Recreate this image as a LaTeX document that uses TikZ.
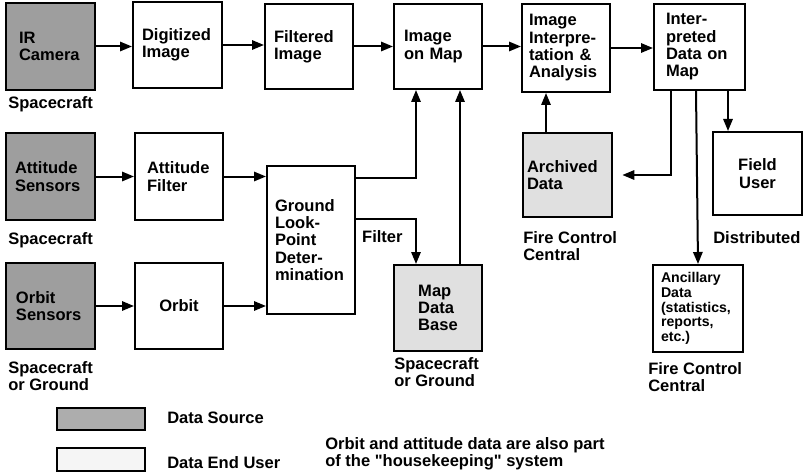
\documentclass[tikz,border=0pt]{standalone}
\usepackage{fontspec}
\setmainfont{Liberation Sans}
\usetikzlibrary{arrows.meta,calc}
\begin{document}
\begin{tikzpicture}[x=0.75pt,y=-0.75pt,
  every node/.style={font=\bfseries\fontsize{12.4}{13}\selectfont, inner sep=0pt},
  blk/.style n args={2}{draw, line width=1.5pt,
    minimum width=#1*0.75pt, minimum height=#2*0.75pt},
  lft/.style={text width=#1*0.75pt, align=left},
  src/.style={fill=black!38},
  arc/.style={fill=black!12},
  lbl/.style={anchor=north west, align=left},
  small/.style={font=\bfseries\fontsize{10.6}{11}\selectfont},
  arr/.style={line width=1.5pt, -{Triangle[length=9pt,width=7pt]}},
]
\useasboundingbox (0,0) rectangle (806,474);

% top row: image chain
\node[blk={89}{87}, src, lft=63] (ir)   at (50.5,46.5) {IR\\Camera};
\node[blk={89}{86}, lft=71]      (dig)  at (177.5,45)  {Digitized\\Image};
\node[blk={88}{85}, lft=70]      (filt) at (309,46.5)  {Filtered\\Image};
\node[blk={88}{85}, lft=68]      (iom)  at (438,46.5)  {Image\\on Map};
\node[blk={88}{88}, lft=74]      (interp) at (566,48)  {Image\\Interpre-\\tation \&\\Analysis};
\node[blk={91}{86}, lft=67]      (idata) at (699.5,47) {Inter-\\preted\\Data on\\Map};

% attitude and orbit chains
\node[blk={89}{87}, src, lft=71] (atts) at (50.5,176.5) {Attitude\\Sensors};
\node[blk={88}{87}, lft=64]      (attf) at (179,176.5)  {Attitude\\Filter};
\node[blk={89}{86}, src, lft=69] (orbs) at (50.5,306)   {Orbit\\Sensors};
\node[blk={88}{86}, align=center] (orb) at (179,306)    {Orbit};
\node[blk={88}{148}, lft=72]     (glp)  at (311,240)    {Ground\\Look-\\Point\\Deter-\\mination};

% map data base, archive and users
\node[blk={88}{86}, arc, align=left] (mdb) at (438,308) {Map\\Data\\Base};
\node[blk={89}{84}, arc, lft=81]  (arch) at (567.5,175) {Archived\\Data};
\node[blk={89}{83}, align=center] (field) at (757.5,173.5) {Field\\User};
\node[blk={90}{87}, small, lft=74] (anc) at (698,308.5) {Ancillary\\Data\\(statistics,\\reports,\\etc.)};

% location labels
\node[lbl] (l1) at (8,96)    {Spacecraft};
\node[lbl] (l2) at (8,232)   {Spacecraft};
\node[lbl] (l3) at (8,361)   {Spacecraft\\or Ground};
\node[lbl] (l4) at (394,357) {Spacecraft\\or Ground};
\node[lbl] (l5) at (523,231) {Fire Control\\Central};
\node[lbl] (l6) at (713,231) {Distributed};
\node[lbl] (l7) at (648,362) {Fire Control\\Central};

% connectors
\draw[arr] (ir.east) -- (ir.east -| dig.west);
\draw[arr] (dig.east) -- (dig.east -| filt.west);
\draw[arr] (filt.east) -- (filt.east -| iom.west);
\draw[arr] (iom.east) -- (iom.east -| interp.west);
\draw[arr] (interp.east) -- (interp.east -| idata.west);
\draw[arr] (atts.east) -- (atts.east -| attf.west);
\draw[arr] (attf.east) -- (attf.east -| glp.west);
\draw[arr] (orbs.east) -- (orbs.east -| orb.west);
\draw[arr] (orb.east) -- (orb.east -| glp.west);

\draw[arr] ($(glp.north east)+(0,13)$) -| ($(iom.south west)+(23,0)$);
\draw[arr] ($(glp.north east)+(0,54)$) -| ($(mdb.north west)+(23,0)$)
  node[pos=0.22, below=8pt, anchor=north] (flt) {Filter};
\draw[arr] ($(mdb.north west)+(67,0)$) -- ($(iom.south west)+(67,0)$);
\draw[arr] ($(arch.north west)+(24,0)$) -- ($(interp.south west)+(25,0)$);
\draw[arr, shorten >=7pt] ($(idata.south west)+(18,0)$) |- (arch.east);
\draw[arr] ($(idata.south west)+(43,0)$) -- (anc.north);
\draw[arr] ($(idata.south west)+(75,0)$) -- ($(field.north west)+(16,0)$);

% legend
\node[blk={88}{22}, fill=black!32] (ksrc) at (101,419) {};
\node[blk={88}{23}, fill=black!4]  (kend) at (101,459.5) {};
\node[lbl] (tsrc) at (167,412) {Data Source};
\node[lbl] (tend) at (167,456) {Data End User};
\node[lbl] (note) at (325,437) {Orbit and attitude data are also part\\of the \textquotedbl housekeeping\textquotedbl{} system};
\end{tikzpicture}
\end{document}
